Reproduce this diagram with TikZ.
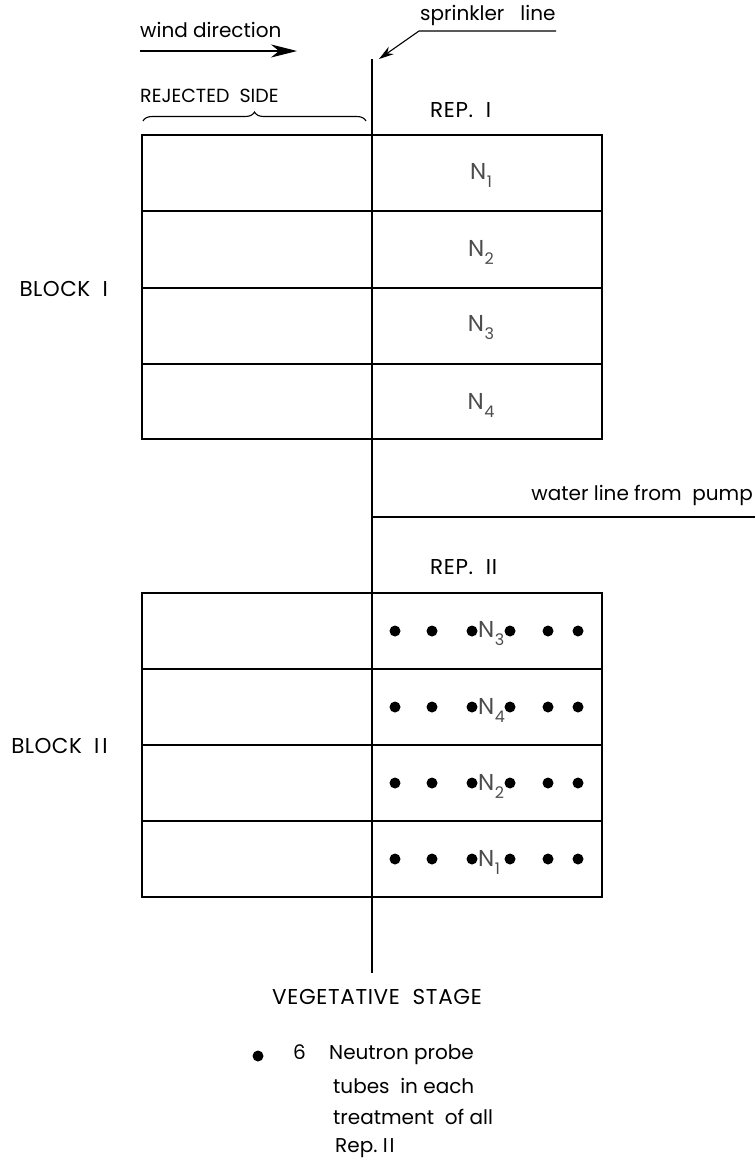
\documentclass[tikz,border=0pt]{standalone}
\usepackage{fontspec}
\setmainfont{Poppins}
\usetikzlibrary{arrows.meta,decorations.pathreplacing}
\newcommand{\Nsub}[1]{N\kern0.5pt\raisebox{-8pt}{\fontsize{16}{16}\selectfont #1}}
\begin{document}
\begin{tikzpicture}[x=1pt,y=-1pt,
  box/.style={line width=2.2pt, line cap=rect},
  thinl/.style={line width=1.1pt},
  lbl/.style={font=\fontsize{20}{24}\selectfont, inner sep=0pt},
  captxt/.style={font=\fontsize{19}{22}\selectfont, inner sep=0pt},
  bigcap/.style={font=\fontsize{21.5}{24}\selectfont\addfontfeature{LetterSpace=3}, inner sep=0pt},
  blkcap/.style={font=\fontsize{21.5}{24}\selectfont\addfontfeature{LetterSpace=2}, inner sep=0pt},
  nlab/.style={font=\fontsize{23}{26}\selectfont, text=black!70, inner sep=0pt},
  probe/.style={circle, fill=black, inner sep=0pt, minimum size=11pt}]
\useasboundingbox (0,0) rectangle (755,1165);

% sprinkler line
\coordinate (stop) at (372,60);
\coordinate (sbot) at (372,972);
\draw[box] (stop) -- (sbot);

% Block I
\draw[box] (142,135) rectangle (602,439);
\foreach \y in {211,288,364} \draw[box] (142,\y) -- (602,\y);
% Block II
\draw[box] (142,593) rectangle (602,897);
\foreach \y in {669,745,821} \draw[box] (142,\y) -- (602,\y);

% water line
\coordinate (wl) at (372,517);
\coordinate (wr) at (755,517);
\draw[line width=1.8pt] (wl) -- (wr);
\node[lbl, anchor=east] (water) at (753,495) {water\ line\ from\ \ pump};

% wind direction
\node[lbl, anchor=west] (wind) at (140,30) {wind direction};
\coordinate (wa) at (140,51);
\coordinate (wb) at (297,51);
\draw[thinl, -{Stealth[length=26pt,width=13pt,inset=8pt]}] (wa) -- (wb);

% sprinkler line label
\node[lbl, anchor=west] (spr) at (420,15) {sprinkler\ \ \ line};
\coordinate (s1) at (556,31);
\coordinate (s2) at (419,31);
\coordinate (s3) at (379,59);
\draw[thinl, -{Stealth[length=15pt,width=9pt,inset=5pt]}] (s1) -- (s2) -- (s3);

% rejected side
\node[captxt, anchor=west] (rej) at (140,96) {REJECTED\ \ SIDE};
\coordinate (b1) at (143,121);
\coordinate (b2) at (366,121);
\draw[thinl, decorate, decoration={brace, amplitude=9pt}] (b1) -- (b2);

% reps and blocks
\node[bigcap, anchor=west] (rep1) at (430,110) {REP.\ \ I};
\node[bigcap, anchor=west] (rep2) at (430,567) {REP.\ \ II};
\node[blkcap, anchor=east] (blk1) at (108,289) {BLOCK\ \ I};
\node[blkcap, anchor=east] (blk2) at (108,746) {BLOCK\ \ I\kern3pt I};

% N labels block I
\node[nlab] (n11) at (481,175) {\Nsub{1}};
\node[nlab] (n12) at (481,252) {\Nsub{2}};
\node[nlab] (n13) at (481,328) {\Nsub{3}};
\node[nlab] (n14) at (481,405) {\Nsub{4}};

% Block II probes and labels
\foreach \y/\n/\k in {631/3/a,707/4/b,783/2/c,859/1/d}{
  \foreach \x/\j in {395/1,432/2,472/3,510/4,548/5,578/6}
    \node[probe] (p\k\j) at (\x,\y) {};
  \node[nlab, anchor=west] (n2\k) at (478,\y+3) {\Nsub{\n}};
}

% bottom text
\node[bigcap, inner sep=0pt] (veg) at (377,997) {VEGETATIVE\ \ STAGE};
\node[probe] (legdot) at (258,1056) {};
\node[lbl, anchor=west] (six) at (293,1052) {6};
\node[lbl, anchor=west] (l1) at (329,1055) {Neutron probe};
\node[lbl, anchor=west] (l2) at (333,1086) {tubes\ \ in each};
\node[lbl, anchor=west] (l3) at (333,1117) {treatment\ \ of all};
\node[lbl, anchor=west] (l4) at (335,1148) {Rep.\ I\kern2pt I};
\end{tikzpicture}
\end{document}
